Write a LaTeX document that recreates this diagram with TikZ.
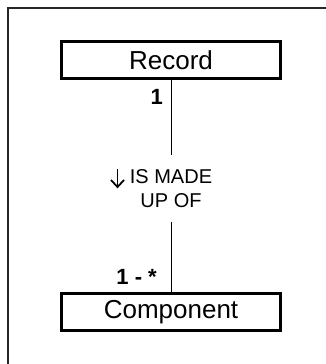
\documentclass[tikz,border=0pt]{standalone}
\usepackage{fontspec}
\setmainfont{Liberation Sans}
\usetikzlibrary{positioning}

\begin{document}
\begin{tikzpicture}[x=1pt,y=1pt,
    entity/.style={draw,line width=3pt,minimum width=219pt,minimum height=37pt,
        inner sep=0pt,font=\fontsize{26}{31}\selectfont},
    card/.style={inner sep=0pt,font=\fontsize{22}{26}\selectfont\bfseries}]
            \useasboundingbox (0,0) rectangle (326,364);
            % outer frame, cut by the page edge
            \draw[line width=1.3pt,black!85] (8,-20) -- (8,356) -- (345,356);
            \node[entity] (rec) at (171,304) {Record};
            \node[entity] (comp) at (171,52) {Component};
            \node[align=center,inner sep=0pt,minimum height=67pt,
                font=\fontsize{20}{24}\selectfont] (madeup) at (171,175.5)
                {IS MADE\\UP OF};
            % reading direction arrow
            \draw[line width=1.8pt] ([xshift=-53.5pt,yshift=19.5pt]madeup.center) -- ([xshift=-53.5pt,yshift=1.5pt]madeup.center);
            \draw[line width=1.8pt] ([xshift=-60pt,yshift=8.5pt]madeup.center) -- ([xshift=-53.5pt,yshift=1.5pt]madeup.center)
                -- ([xshift=-47pt,yshift=8.5pt]madeup.center);
            \draw[line width=1pt] (rec.south) -- (madeup.north);
            \draw[line width=1pt] (madeup.south) -- (comp.north);
            \node[card,anchor=north east] (one) at ([xshift=-8pt,yshift=-9pt]rec.south) {1};
            \node[card,anchor=south east] (many) at ([xshift=-14pt,yshift=7pt]comp.north) {1 - *};
\end{tikzpicture}
\end{document}
